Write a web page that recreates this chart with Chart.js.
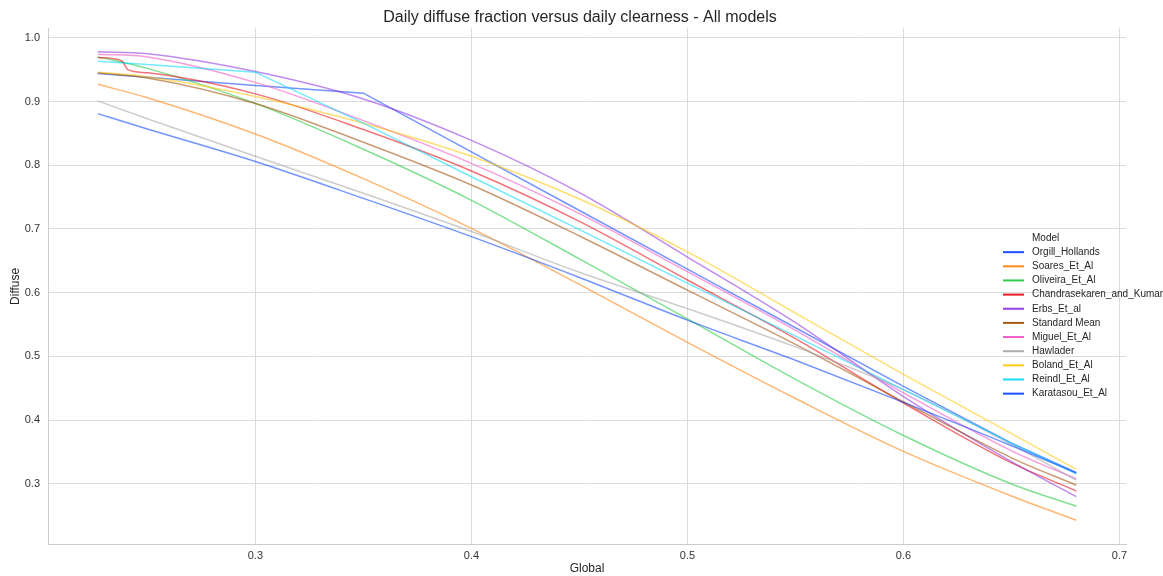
<!DOCTYPE html>
<html>
<head>
<meta charset="utf-8">
<title>Daily diffuse fraction versus daily clearness</title>
<script src="https://cdn.jsdelivr.net/npm/chart.js@4.4.0/dist/chart.umd.min.js"></script>
<style>
  html, body { margin: 0; padding: 0; background: #fff; }
  #chart-wrap { width: 1163px; height: 576px; }
</style>
</head>
<body>
<div id="chart-wrap"><canvas id="diffuseChart" width="1163" height="576"></canvas></div>
<script>
// Daily clearness index (x) shared by most models
const kt = [0.227, 0.25, 0.3, 0.35, 0.4, 0.45, 0.5, 0.55, 0.6, 0.65, 0.68];
// Chandrasekaren has a step near 0.24, so it gets a few extra points
const chandraKt = [0.227, 0.238, 0.241, 0.25, 0.3, 0.35, 0.4, 0.45, 0.5, 0.55, 0.6, 0.65, 0.68];

const orgillHollands = [0.944, 0.938, 0.925, 0.913, 0.821, 0.729, 0.637, 0.545, 0.453, 0.364, 0.318];
const soaresEtAl     = [0.927, 0.906, 0.849, 0.779, 0.701, 0.613, 0.522, 0.434, 0.351, 0.281, 0.243];
const oliveiraEtAl   = [0.970, 0.952, 0.897, 0.825, 0.745, 0.653, 0.559, 0.464, 0.376, 0.300, 0.265];
const chandrasekaren = [0.969, 0.964, 0.950, 0.945, 0.912, 0.856, 0.791, 0.712, 0.620, 0.528, 0.427, 0.333, 0.289];
const erbsEtAl       = [0.978, 0.975, 0.947, 0.904, 0.839, 0.757, 0.656, 0.553, 0.437, 0.335, 0.280];
const standardMean   = [0.945, 0.937, 0.897, 0.836, 0.769, 0.689, 0.604, 0.519, 0.429, 0.341, 0.298];
const miguelEtAl     = [0.974, 0.970, 0.930, 0.870, 0.803, 0.724, 0.633, 0.541, 0.443, 0.352, 0.308];
const hawlader       = [0.901, 0.873, 0.814, 0.756, 0.696, 0.632, 0.575, 0.515, 0.448, 0.362, 0.306];
const bolandEtAl     = [0.946, 0.939, 0.908, 0.866, 0.814, 0.747, 0.664, 0.568, 0.472, 0.379, 0.323];
const reindlEtAl     = [0.963, 0.958, 0.946, 0.866, 0.782, 0.699, 0.615, 0.532, 0.448, 0.364, 0.316];
const karatasouEtAl  = [0.881, 0.857, 0.806, 0.748, 0.688, 0.624, 0.557, 0.494, 0.428, 0.360, 0.317];

const xTicks = [0.3, 0.4, 0.5, 0.6, 0.7];
const yTicks = [0.3, 0.4, 0.5, 0.6, 0.7, 0.8, 0.9, 1.0];

const FONT = '"Liberation Sans", Arial, Helvetica, sans-serif';
Chart.defaults.font.family = FONT;

function withAlpha(hex, a) {
  const n = parseInt(hex.slice(1), 16);
  return `rgba(${(n >> 16) & 255}, ${(n >> 8) & 255}, ${n & 255}, ${a})`;
}

// seaborn "bright" palette, 11th entry wraps back to blue
const models = [
  { label: 'Orgill_Hollands', x: kt, y: orgillHollands, color: '#023eff', sharp: true },
  { label: 'Soares_Et_Al', x: kt, y: soaresEtAl, color: '#ff7c00' },
  { label: 'Oliveira_Et_Al', x: kt, y: oliveiraEtAl, color: '#1ac938' },
  { label: 'Chandrasekaren_and_Kumar', x: chandraKt, y: chandrasekaren, color: '#e8000b' },
  { label: 'Erbs_Et_al', x: kt, y: erbsEtAl, color: '#8b2be2' },
  { label: 'Standard Mean', x: kt, y: standardMean, color: '#9f4800' },
  { label: 'Miguel_Et_Al', x: kt, y: miguelEtAl, color: '#f14cc1' },
  { label: 'Hawlader', x: kt, y: hawlader, color: '#a3a3a3' },
  { label: 'Boland_Et_Al', x: kt, y: bolandEtAl, color: '#ffc400' },
  { label: 'Reindl_Et_Al', x: kt, y: reindlEtAl, color: '#00d7ff', sharp: true },
  { label: 'Karatasou_Et_Al', x: kt, y: karatasouEtAl, color: '#023eff' }
];

const datasets = models.map((m, i) => ({
  label: m.label,
  data: m.x.map((v, j) => ({ x: v, y: m.y[j] })),
  borderColor: withAlpha(m.color, 0.55),
  legendColor: withAlpha(m.color, 0.9),
  borderWidth: 1.5,
  pointRadius: 0,
  fill: false,
  tension: 0,
  cubicInterpolationMode: m.sharp ? 'default' : 'monotone',
  order: models.length - i // later models on top, like matplotlib
}));

// title + seaborn-style legend (no frame, title as first row), drawn over the plot
const modelLegend = {
  id: 'modelLegend',
  afterDraw(chart) {
    const ctx = chart.ctx;
    ctx.save();
    ctx.textBaseline = 'middle';
    ctx.fillStyle = '#262626';

    ctx.font = '16px ' + FONT;
    ctx.textAlign = 'center';
    ctx.fillText('Daily diffuse fraction versus daily clearness - All models', 580, 18);

    const textX = 1032, lineX0 = 1003, lineX1 = 1024;
    const top = 238, step = 14.15;
    ctx.font = '10px ' + FONT;
    ctx.textAlign = 'left';
    ctx.fillText('Model', textX, top);
    chart.data.datasets.forEach((ds, i) => {
      const y = top + step * (i + 1);
      ctx.strokeStyle = ds.legendColor;
      ctx.lineWidth = 2;
      ctx.beginPath();
      ctx.moveTo(lineX0, y);
      ctx.lineTo(lineX1, y);
      ctx.stroke();
      ctx.fillText(ds.label, textX, y);
    });
    ctx.restore();
  }
};

const gridColor = '#dcdcdc';
const tickColor = '#333333';

new Chart(document.getElementById('diffuseChart'), {
  type: 'line',
  data: { datasets: datasets },
  plugins: [modelLegend],
  options: {
    responsive: false,
    animation: false,
    layout: { padding: { left: 0, right: 37, top: 28.2, bottom: 0 } },
    plugins: {
      legend: { display: false },
      tooltip: { enabled: false },
      title: { display: false }
    },
    scales: {
      x: {
        type: 'linear',
        min: 0.204,
        max: 0.703,
        afterBuildTicks: s => { s.ticks = xTicks.map(v => ({ value: v })); },
        afterFit: s => { s.height = 31.5; },
        ticks: {
          color: tickColor,
          font: { size: 11 },
          padding: 5,
          maxRotation: 0,
          callback: v => v.toFixed(1)
        },
        grid: { color: gridColor, lineWidth: 1, drawTicks: false },
        border: { display: true, color: '#cccccc', width: 1 },
        title: {
          display: true,
          text: 'Global',
          color: '#262626',
          font: { size: 12 },
          padding: { top: 0, bottom: 0 }
        }
      },
      y: {
        type: 'linear',
        min: 0.205,
        max: 1.015,
        afterBuildTicks: s => { s.ticks = yTicks.map(v => ({ value: v })); },
        afterFit: s => { s.width = 48; },
        ticks: {
          color: tickColor,
          font: { size: 11 },
          padding: 8,
          callback: v => v.toFixed(1)
        },
        grid: { color: gridColor, lineWidth: 1, drawTicks: false },
        border: { display: true, color: '#cccccc', width: 1 },
        title: {
          display: true,
          text: 'Diffuse',
          color: '#262626',
          font: { size: 12 },
          padding: { top: 8, bottom: 0 }
        }
      }
    }
  }
});
</script>
</body>
</html>
